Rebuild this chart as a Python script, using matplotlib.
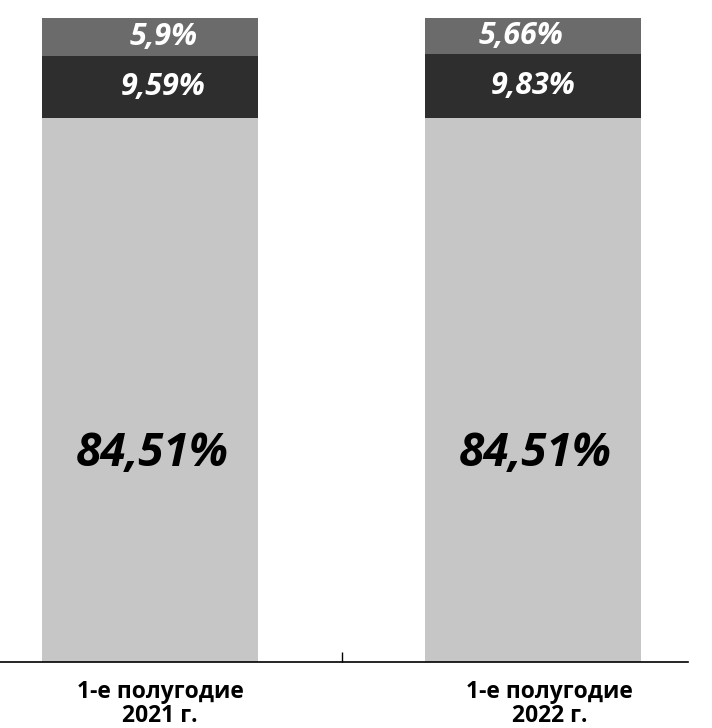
import matplotlib.pyplot as plt
import numpy as np

# ---------- data ----------
categories = ["1-е полугодие\n2021 г.", "1-е полугодие\n2022 г."]
bottom_vals = [84.51, 84.51]
middle_vals = [9.59, 9.83]
top_vals = [5.9, 5.66]

def fmt(v):
    return (f"{v:g}").replace(".", ",") + "%"

# ---------- plot ----------
plt.rcParams['font.family'] = ['Open Sans', 'DejaVu Sans']

fig = plt.figure(figsize=(7.12, 7.28), dpi=100)
ax = fig.add_axes([0.0, 0.0907, 0.9663, 0.8846])

x = np.arange(len(categories))
w = 0.564
b = np.array(bottom_vals)
m = np.array(middle_vals)
t = np.array(top_vals)

ax.bar(x, b, w, color="#c6c6c6")
ax.bar(x, m, w, bottom=b, color="#2e2e2e")
ax.bar(x, t, w, bottom=b + m, color="#6b6b6b")

# small label shifts (as in the original layout)
dx_big = [0.005, 0.005]
dx_mid = [0.035, 0.0]
dx_top = [0.035, -0.03]
dx_cat = [0.026, 0.044]

for i in range(len(x)):
    ax.text(x[i] + dx_big[i], 32.3, fmt(b[i]), ha="center", va="center",
            fontsize=33, fontweight="bold", style="italic", color="black")
    ax.text(x[i] + dx_mid[i], b[i] + m[i] / 2, fmt(m[i]), ha="center", va="center",
            fontsize=22, fontweight="bold", style="italic", color="white")
    ax.text(x[i] + dx_top[i], b[i] + m[i] + t[i] / 2, fmt(t[i]), ha="center", va="center",
            fontsize=22, fontweight="bold", style="italic", color="white")

ax.set_xlim(-0.392, 1.405)
ax.set_ylim(0, 100)
for s in ["top", "right", "left"]:
    ax.spines[s].set_visible(False)
ax.spines["bottom"].set_linewidth(1.2)
ax.set_yticks([])
ax.set_xticks([0.5])
ax.set_xticklabels([])
ax.tick_params(axis="x", direction="in", length=7, width=1)
ax.set_xticks(x + np.array(dx_cat), minor=True)
ax.set_xticklabels(categories, minor=True, fontsize=16.5, fontweight="bold",
                   linespacing=1.0)
ax.tick_params(axis="x", which="minor", length=0, pad=13)

fig.savefig("out.png", dpi=100)
